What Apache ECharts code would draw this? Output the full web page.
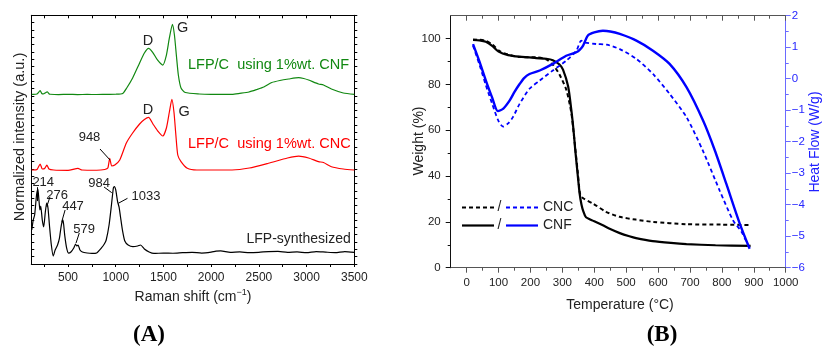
<!DOCTYPE html>
<html>
<head>
<meta charset="utf-8">
<script src="https://cdn.jsdelivr.net/npm/echarts@6.0.0/dist/echarts.min.js"></script>
<style>
  html, body { margin: 0; padding: 0; background: #fff; }
  #chart { width: 823px; height: 354px; }
</style>
</head>
<body>
<div id="chart"></div>
<script>
// ---------- (A) Raman spectra: [wavenumber (cm-1), normalized intensity (a.u.)], traces stacked ----------
const ramanLFP = [
  [120, 4.65], [135, 6.0], [150, 6.7], [170, 9.43], [184, 10.25], [195, 8.75], [205, 7.38], [214, 7.93],
  [230, 6.02], [245, 5.06], [262, 7.11], [276, 8.34], [290, 7.66], [305, 5.33], [325, 2.6], [345, 1.09],
  [365, 1.91], [390, 2.6], [410, 3.55], [430, 5.33], [447, 6.02], [465, 3.95], [485, 2.19], [505, 1.5],
  [530, 1.64], [560, 2.19], [579, 2.73], [590, 2.46], [605, 2.6], [625, 1.91], [650, 1.64], [700, 1.5],
  [750, 1.44], [800, 1.5], [850, 2.19], [880, 2.73], [900, 3.28], [930, 5.33], [955, 8.07], [975, 10.39],
  [985, 10.59], [1000, 10.12], [1020, 8.48], [1035, 7.79], [1050, 6.43], [1070, 4.65], [1095, 3.14],
  [1130, 2.6], [1180, 2.37], [1230, 2.46], [1260, 2.6], [1300, 2.05], [1350, 1.64], [1400, 1.44],
  [1500, 1.5], [1600, 1.47], [1700, 1.55], [1800, 1.6], [1900, 1.5], [2000, 1.62], [2050, 1.75],
  [2100, 1.8], [2200, 1.6], [2300, 1.65], [2400, 1.55], [2500, 1.6], [2600, 1.7], [2700, 1.72],
  [2800, 1.6], [2900, 1.65], [3000, 1.55], [3100, 1.7], [3200, 1.62], [3300, 1.55], [3400, 1.7], [3500, 1.6]
];
const ramanCNC = [
  [120, 12.85], [135, 12.85], [175, 12.92], [208, 13.67], [230, 12.99], [255, 13.06], [278, 13.53],
  [300, 12.99], [350, 12.85], [500, 12.81], [604, 13.08], [646, 12.85], [800, 12.82], [885, 12.92],
  [917, 13.12], [937, 14.45], [958, 13.4], [990, 13.53], [1042, 14.22], [1111, 16.54], [1177, 17.91],
  [1250, 19.14], [1300, 19.75], [1344, 20.05], [1390, 19.14], [1437, 18.25], [1493, 17.5], [1531, 18.59],
  [1562, 20.78], [1588, 22.52], [1610, 20.78], [1630, 17.64], [1650, 14.9], [1684, 13.99], [1750, 13.08],
  [1850, 12.85], [2219, 12.85], [2400, 13.12], [2600, 13.77], [2800, 14.49], [2917, 14.76], [3021, 14.49],
  [3125, 13.99], [3177, 13.88], [3260, 13.3], [3385, 12.99], [3500, 12.85]
];
const ramanCNF = [
  [120, 23.2], [135, 23.2], [175, 23.24], [208, 23.69], [225, 23.31], [240, 23.24], [262, 23.38],
  [281, 23.55], [300, 23.27], [312, 23.21], [400, 23.16], [500, 23.2], [600, 23.16], [700, 23.18],
  [800, 23.17], [900, 23.2], [1000, 23.21], [1073, 23.31], [1115, 24.06], [1177, 25.43], [1250, 27.48],
  [1300, 28.84], [1344, 29.49], [1385, 28.98], [1437, 27.89], [1493, 27.2], [1531, 28.57], [1562, 30.9],
  [1594, 32.77], [1615, 31.31], [1635, 28.57], [1656, 25.84], [1684, 24.06], [1729, 23.44], [1875, 23.24],
  [2000, 23.2], [2219, 23.2], [2300, 23.33], [2396, 23.51], [2480, 23.86], [2552, 24.2], [2635, 24.81],
  [2720, 25.09], [2812, 25.29], [2917, 25.47], [2970, 25.36], [3021, 25.15], [3125, 24.61], [3177, 24.47],
  [3260, 23.92], [3385, 23.38], [3500, 23.2]
];
const ramanTickLabels = [500, 1000, 1500, 2000, 2500, 3000, 3500];
const ramanTicks = [250, 500, 750, 1000, 1250, 1500, 1750, 2000, 2250, 2500, 2750, 3000, 3250, 3500];

// ---------- (B) TGA weight (%) and heat flow (W/g) vs temperature (°C) ----------
const weightCNC = [
  [20, 99.6], [40, 99.5], [60, 99], [80, 97.5], [103, 94.6], [130, 93], [166, 92], [218, 91.8], [249, 91],
  [270, 88.7], [291, 84.3], [312, 77.8], [328, 67.7], [336, 58], [342, 50], [348, 42], [352, 36], [356, 32],
  [365, 30.3], [396, 28], [437, 24.4], [479, 22.2], [530, 21], [584, 20], [688, 19], [800, 18.8], [890, 18.6]
];
const weightCNF = [
  [20, 99.4], [40, 99.2], [60, 98.6], [80, 96.8], [100, 94.3], [130, 92.8], [166, 92.1], [218, 91.5],
  [250, 91.2], [270, 90.6], [291, 88.7], [302, 86.5], [318, 79.2], [328, 69], [335, 60], [340, 52],
  [347, 42], [354, 32.5], [360, 27.5], [366, 24.5], [374, 22], [400, 20.3], [427, 18.5], [450, 16.9],
  [480, 15.1], [510, 13.7], [531, 12.9], [583, 11.6], [640, 10.8], [689, 10.3], [780, 9.8], [890, 9.5]
];
const heatCNC = [
  [20, 1.05], [40, 0.45], [60, -0.2], [80, -0.8], [100, -1.35], [114, -1.52], [130, -1.42], [145, -1.22],
  [166, -0.8], [197, -0.32], [229, -0.06], [270, 0.26], [312, 0.57], [344, 0.89], [359, 1.21], [370, 1.15],
  [407, 1.1], [439, 1.08], [480, 0.94], [532, 0.63], [584, 0.15], [636, -0.48], [689, -1.22], [741, -2.3],
  [793, -3.55], [835, -4.5], [861, -4.85], [887, -5.4]
];
const heatCNF = [
  [20, 1.1], [40, 0.55], [60, -0.05], [80, -0.6], [98, -1.03], [115, -0.95], [135, -0.69], [150, -0.42],
  [166, -0.17], [180, 0.02], [197, 0.15], [229, 0.26], [270, 0.47], [312, 0.73], [344, 0.84], [355, 0.92],
  [365, 1.05], [380, 1.37], [400, 1.47], [427, 1.52], [450, 1.5], [480, 1.42], [532, 1.21], [584, 0.89],
  [636, 0.47], [689, -0.27], [741, -1.33], [778, -2.28], [814, -3.34], [856, -4.6], [887, -5.4]
];
const tempTicks = [0, 100, 200, 300, 400, 500, 600, 700, 800, 900, 1000];
const tempMinorTicks = [50, 150, 250, 350, 450, 550, 650, 750, 850, 950];
const weightTicks = [0, 20, 40, 60, 80, 100];
const weightMinorTicks = [10, 30, 50, 70, 90];
const heatTicks = [-6, -5, -4, -3, -2, -1, 0, 1, 2];
const heatMinorTicks = [-5.5, -4.5, -3.5, -2.5, -1.5, -0.5, 0.5, 1.5];

const FONT = '"Liberation Sans", Arial, sans-serif';
const BLUE = '#0000ff';
const AXIS_BLUE = '#6a6aff';
const GRAY = '#555555';

// One axis side: line, ticks at the given values, optional labels
function side(o) {
  return {
    type: 'value',
    gridIndex: o.grid,
    position: o.pos,
    min: o.min, max: o.max,
    interval: o.interval,
    splitLine: { show: false },
    axisLine: { show: true, onZero: false, lineStyle: { color: o.color || '#000', width: 1 } },
    axisTick: {
      show: true, inside: !!o.inside, length: o.len || 3,
      customValues: o.ticks,
      lineStyle: { color: o.color || '#000', width: 1 }
    },
    axisLabel: o.labels ? {
      show: true, customValues: o.labels, margin: o.margin || 5,
      fontFamily: FONT, fontSize: o.fontSize || 12, color: o.labelColor || '#222',
      formatter: v => String(v).replace('-', '\u2212')
    } : { show: false }
  };
}

const chart = echarts.init(document.getElementById('chart'), null, { renderer: 'canvas' });

// Line series helper
function line(name, data, xi, yi, color, width, dashed, smooth) {
  return {
    name: name, type: 'line', data: data, xAxisIndex: xi, yAxisIndex: yi,
    showSymbol: false, smooth: smooth,
    lineStyle: { color: color, width: width, type: dashed ? [4, 3] : 'solid' }
  };
}

const arrowStyle = {
  silent: true, symbolSize: [0, 5], label: { show: false }, animation: false,
  lineStyle: { color: '#000', width: 1, type: 'solid' }
};
function arrows(pairs) {
  return Object.assign({}, arrowStyle, {
    data: pairs.map(p => [{ coord: p[0], symbol: 'none' }, { coord: p[1], symbol: 'arrow' }])
  });
}

const sLFP = line('LFP-synthesized', ramanLFP, 0, 0, '#000', 1.2, false, 0.2);
sLFP.markLine = arrows([
  [[182, 8.6], [182, 10.5]],
  [[277, 7.83], [311, 9.2]],
  [[434, 5.78], [469, 7.38]],
  [[584, 2.87], [618, 4.24]],
  [[958, 9.75], [877, 10.53]],
  [[1027, 8.3], [1123, 8.98]]
]);
const sCNC = line('LFP/C using 1%wt. CNC', ramanCNC, 0, 0, '#ff0000', 1.2, false, 0.2);
sCNC.markLine = arrows([[[940, 14.22], [835, 15.72]]]);
const sCNF = line('LFP/C using 1%wt. CNF', ramanCNF, 0, 0, '#118811', 1.2, false, 0.2);

const option = {
  animation: false,
  backgroundColor: '#fff',
  grid: [
    { left: 31.3, top: 15.3, width: 323, height: 248.7 },
    { left: 450.7, top: 15.7, width: 335, height: 252 }
  ],
  xAxis: [
    side({ grid: 0, pos: 'bottom', min: 115, max: 3500, ticks: ramanTicks, labels: ramanTickLabels, len: 3, margin: 8 }),
    side({ grid: 0, pos: 'top', min: 115, max: 3500, ticks: ramanTicks, inside: true, len: 3 }),
    side({ grid: 1, pos: 'bottom', min: -50, max: 1000, ticks: tempTicks, labels: tempTicks, len: 5, color: GRAY, fontSize: 11.5, margin: 9 }),
    side({ grid: 1, pos: 'bottom', min: -50, max: 1000, ticks: tempMinorTicks, len: 3, color: GRAY }),
    side({ grid: 1, pos: 'top', min: -50, max: 1000, ticks: tempTicks, inside: true, len: 5, color: GRAY }),
    side({ grid: 1, pos: 'top', min: -50, max: 1000, ticks: tempMinorTicks, inside: true, len: 3, color: GRAY })
  ],
  yAxis: [
    side({ grid: 0, pos: 'left', min: 0, max: 34, interval: 1, inside: true, len: 3 }),
    side({ grid: 0, pos: 'right', min: 0, max: 34, interval: 1, len: 3 }),
    side({ grid: 1, pos: 'left', min: 0, max: 110, ticks: weightTicks, labels: weightTicks, len: 5, fontSize: 11.5, margin: 10, color: '#111' }),
    side({ grid: 1, pos: 'left', min: 0, max: 110, ticks: weightMinorTicks, len: 3, color: '#111' }),
    side({ grid: 1, pos: 'right', min: -6, max: 2, ticks: heatTicks, labels: heatTicks, len: 5, color: AXIS_BLUE, labelColor: '#2626ff', fontSize: 11.5, margin: 6 }),
    side({ grid: 1, pos: 'right', min: -6, max: 2, ticks: heatMinorTicks, len: 3, color: AXIS_BLUE })
  ],
  series: [
    sLFP, sCNC, sCNF,
    line('Weight CNC', weightCNC, 2, 2, '#000', 2, true, 0.25),
    line('Weight CNF', weightCNF, 2, 2, '#000', 2.2, false, 0.25),
    line('Heat flow CNC', heatCNC, 2, 4, BLUE, 1.8, true, 0.25),
    line('Heat flow CNF', heatCNF, 2, 4, BLUE, 2.4, false, 0.25)
  ]
};
chart.setOption(option);

// Text annotations of the Raman panel, anchored in data coordinates
const ramanNotes = [
  { t: '214', at: [240, 11.2], c: '#222', s: 13 },
  { t: '276', at: [385, 9.43], c: '#222', s: 13 },
  { t: '447', at: [552, 7.83], c: '#222', s: 13 },
  { t: '579', at: [668, 4.78], c: '#222', s: 13 },
  { t: '984', at: [825, 11.07], c: '#222', s: 13 },
  { t: '1033', at: [1317, 9.2], c: '#222', s: 13 },
  { t: '948', at: [725, 17.32], c: '#222', s: 13 },
  { t: 'LFP-synthesized', at: [3463, 3.38], c: '#222', s: 14, align: 'right' },
  { t: 'LFP/C  using 1%wt. CNC', at: [1757, 16.4], c: '#ff0000', s: 14.5, align: 'left' },
  { t: 'LFP/C  using 1%wt. CNF', at: [1757, 27.16], c: '#118811', s: 14.5, align: 'left' },
  { t: 'D', at: [1338, 30.49], c: '#222', s: 14.5 },
  { t: 'G', at: [1700, 32.26], c: '#222', s: 14.5 },
  { t: 'D', at: [1338, 21.05], c: '#222', s: 14.5 },
  { t: 'G', at: [1716, 20.82], c: '#222', s: 14.5 }
];

function txt(text, x, y, o) {
  o = o || {};
  return {
    type: 'text', x: x, y: y, rotation: o.rot || 0, silent: true,
    style: {
      text: text, x: 0, y: 0, fill: o.color || '#222',
      font: (o.weight || 'normal') + ' ' + (o.size || 14) + 'px ' + (o.family || FONT),
      align: o.align || 'center', verticalAlign: 'middle'
    }
  };
}

const graphics = ramanNotes.map(n => {
  const p = chart.convertToPixel({ gridIndex: 0 }, n.at);
  return txt(n.t, p[0], p[1], { color: n.c, size: n.s, align: n.align });
});

// Axis titles and panel letters
const SERIF = '"Liberation Serif", "Times New Roman", serif';
graphics.push(
  txt('Normalized intensity (a.u.)', 20, 137, { rot: Math.PI / 2, size: 14.5 }),
  {
    type: 'text', x: 193, y: 297, silent: true,
    style: {
      text: '{a|Raman shift (cm}{s|\u22121}{a|)}', x: 0, y: 0, align: 'center', verticalAlign: 'middle',
      rich: {
        a: { font: '14px ' + FONT, fill: '#222' },
        s: { font: '9px ' + FONT, fill: '#222', verticalAlign: 'top', padding: [0, 0, 8, 0] }
      }
    }
  },
  txt('Weight (%)', 419, 141, { rot: Math.PI / 2, size: 14 }),
  txt('Heat Flow (W/g)', 815, 142, { rot: Math.PI / 2, size: 14, color: '#2020ff' }),
  txt('Temperature (\u00b0C)', 620, 305, { size: 14 }),
  txt('(A)', 149, 335, { size: 23, weight: 'bold', family: SERIF, color: '#000' }),
  txt('(B)', 662, 335, { size: 23, weight: 'bold', family: SERIF, color: '#000' })
);

// Legend of the thermal panel: weight style / heat-flow style
function seg(x1, x2, y, color, dashed, w) {
  return { type: 'line', silent: true, shape: { x1: x1, y1: y, x2: x2, y2: y },
    style: { stroke: color, lineWidth: w, lineDash: dashed ? [4, 3] : null } };
}
graphics.push(
  seg(462, 496, 207.5, '#000', true, 1.8), txt('/', 499.5, 207, { size: 14 }), seg(506, 538, 207.5, BLUE, true, 1.8),
  txt('CNC', 543, 207, { size: 14, align: 'left' }),
  seg(462, 494, 225.5, '#000', false, 2.2), txt('/', 499.5, 225, { size: 14 }), seg(506, 538, 225.5, BLUE, false, 2.2),
  txt('CNF', 543, 225, { size: 14, align: 'left' })
);

chart.setOption({ graphic: graphics });
</script>
</body>
</html>
